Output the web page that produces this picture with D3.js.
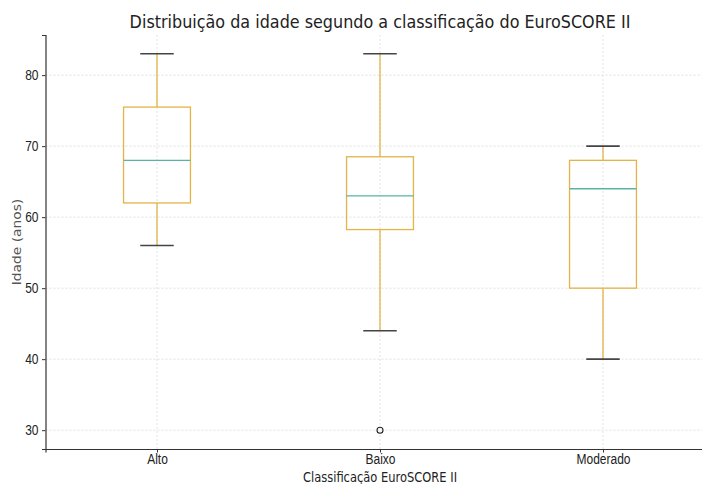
<!DOCTYPE html>
<html>
<head>
<meta charset="utf-8">
<script src="https://cdn.jsdelivr.net/npm/d3@7"></script>
<style>
  html, body { margin: 0; padding: 0; background: #fff; }
  svg { display: block; font-family: "DejaVu Sans", sans-serif; }
</style>
</head>
<body>
<svg id="chart" width="702" height="484"></svg>
<script>
// Age distribution per EuroSCORE II risk class (box statistics)
const categories = ["Alto", "Baixo", "Moderado"];
const whiskerLow  = [56, 44, 40];
const q1          = [62, 58.25, 50];
const medians     = [68, 63, 64];
const q3          = [75.5, 68.5, 68];
const whiskerHigh = [83, 83, 70];
const outliers    = [[], [30], []];
const yTicks      = [30, 40, 50, 60, 70, 80];

const svg = d3.select("#chart");
const margin = { left: 45.5, top: 35, bottom: 449 };
const plotRight = 714.5;
const stretch = 1.15; // text is drawn slightly taller than wide

const x = d3.scaleLinear().domain([0.5, 3.5]).range([margin.left, plotRight]);
const y = d3.scaleLinear().domain([27.35, 85.65]).range([margin.bottom, margin.top]);

// Grid
const grid = svg.append("g");
grid.selectAll("line.h").data(yTicks).join("line")
  .attr("x1", margin.left).attr("x2", plotRight)
  .attr("y1", d => y(d)).attr("y2", d => y(d))
  .attr("stroke", "#d8d8d8").attr("stroke-width", 0.8).attr("stroke-dasharray", "2,2");
grid.selectAll("line.v").data(categories).join("line")
  .attr("x1", (d, i) => x(i + 1)).attr("x2", (d, i) => x(i + 1))
  .attr("y1", margin.top).attr("y2", margin.bottom)
  .attr("stroke", "#dcdcdc").attr("stroke-width", 0.8).attr("stroke-dasharray", "2,2");

// Axes
const yAxis = d3.axisLeft(y).tickValues(yTicks).tickSize(3.5).tickPadding(3.5);
const gy = svg.append("g").attr("transform", `translate(${margin.left},0)`).call(yAxis);
gy.select(".domain").attr("stroke", "#333").attr("stroke-width", 1.2);
gy.selectAll(".tick line").attr("stroke", "#333");
gy.selectAll(".tick text").attr("fill", "#222").style("font-size", "12px")
  .attr("transform", `scale(1,${stretch})`);

const xAxis = d3.axisBottom(x).tickValues([1, 2, 3]).tickFormat((d) => categories[d - 1]).tickSize(3.5).tickPadding(3.5);
const gx = svg.append("g").attr("transform", `translate(0,${margin.bottom})`).call(xAxis);
gx.select(".domain").attr("stroke", "#333").attr("stroke-width", 1.2);
gx.selectAll(".tick line").attr("stroke", "#333");
gx.selectAll(".tick text").attr("fill", "#222").style("font-size", "12px")
  .attr("y", 4.5).attr("transform", `scale(1,${stretch})`);

// Boxes
const boxW = 0.3, capW = 0.15;
const boxColor = "#e3b447", medColor = "#5ab4a6", capColor = "#444";
const boxes = svg.append("g");
categories.forEach((c, i) => {
  const p = i + 1;
  const g = boxes.append("g");
  g.append("line").attr("x1", x(p)).attr("x2", x(p))
    .attr("y1", y(whiskerLow[i])).attr("y2", y(q1[i]))
    .attr("stroke", boxColor).attr("stroke-width", 1.3);
  g.append("line").attr("x1", x(p)).attr("x2", x(p))
    .attr("y1", y(q3[i])).attr("y2", y(whiskerHigh[i]))
    .attr("stroke", boxColor).attr("stroke-width", 1.3);
  g.append("rect")
    .attr("x", x(p - boxW / 2)).attr("width", x(p + boxW / 2) - x(p - boxW / 2))
    .attr("y", y(q3[i])).attr("height", y(q1[i]) - y(q3[i]))
    .attr("fill", "none").attr("stroke", boxColor).attr("stroke-width", 1.3);
  g.append("line").attr("x1", x(p - boxW / 2)).attr("x2", x(p + boxW / 2))
    .attr("y1", y(medians[i])).attr("y2", y(medians[i]))
    .attr("stroke", medColor).attr("stroke-width", 1.3);
  [whiskerLow[i], whiskerHigh[i]].forEach(v => {
    g.append("line").attr("x1", x(p - capW / 2)).attr("x2", x(p + capW / 2))
      .attr("y1", y(v)).attr("y2", y(v))
      .attr("stroke", capColor).attr("stroke-width", 1.6);
  });
  g.selectAll("circle").data(outliers[i]).join("circle")
    .attr("cx", x(p)).attr("cy", d => y(d)).attr("r", 3)
    .attr("fill", "none").attr("stroke", "#222").attr("stroke-width", 1.1);
});

// Titles
svg.append("text").attr("transform", `translate(380,28) scale(1,${stretch})`)
  .attr("text-anchor", "middle")
  .attr("fill", "#222").style("font-size", "16px")
  .text("Distribuição da idade segundo a classificação do EuroSCORE II");
svg.append("text").attr("transform", `translate(380,482) scale(1,${stretch})`)
  .attr("text-anchor", "middle")
  .attr("fill", "#222").style("font-size", "11.5px")
  .text("Classificação EuroSCORE II");
svg.append("text").attr("transform", `translate(21,${(margin.top + margin.bottom) / 2}) rotate(-90) scale(${stretch},1)`)
  .attr("text-anchor", "middle").attr("fill", "#555").style("font-size", "12px")
  .text("Idade (anos)");
</script>
</body>
</html>
